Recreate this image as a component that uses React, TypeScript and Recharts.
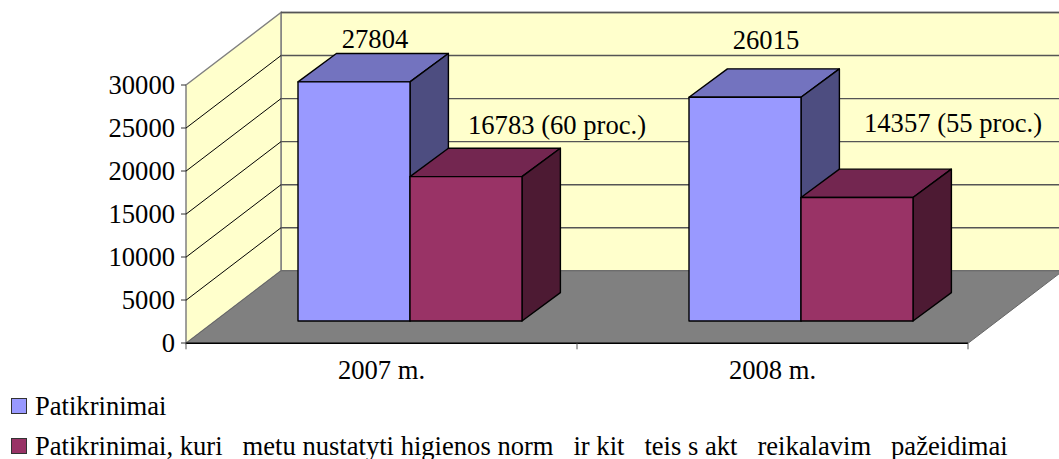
import { BarChart, Bar, XAxis, YAxis, Legend, LabelList } from "recharts";

const categories = ["2007 m.", "2008 m."];
const checks = [27804, 26015];
const violations = [16783, 14357];
const checksLabels = ["27804", "26015"];
const violationLabels = ["16783 (60 proc.)", "14357 (55 proc.)"];
const yTicks = [0, 5000, 10000, 15000, 20000, 25000, 30000];
const seriesNames = [
  "Patikrinimai",
  "Patikrinimai, kuri\u00a0\u00a0 metu nustatyti higienos norm\u00a0\u00a0 ir kit\u00a0\u00a0 teis\u00a0s akt\u00a0\u00a0 reikalavim\u00a0\u00a0 pažeidimai",
];

const chartData = categories.map((name, i) => ({
  name,
  checks: checks[i],
  violations: violations[i],
}));

const FONT = "'Liberation Serif', 'Times New Roman', serif";
const FONT_SIZE = 26.6;

// plot box, front plane of the 3D frame
const LEFT = 186;
const RIGHT = 968;
const TOP = 85;
const BOTTOM = 343.3;
const WALL_DX = 95;
const WALL_DY = 72.5;
// bars sit partway into the depth of the frame
const BAR_SHIFT_X = 28;
const BAR_SHIFT_Y = 22;
const BAR_DX = 38.4;
const BAR_DY = 28.4;

const yOf = (v: number) => BOTTOM - ((BOTTOM - TOP) * v) / 30000;

function Frame() {
  const poly = (pts: number[][]) => pts.map((p) => p.join(",")).join(" ");
  return (
    <g>
      <polygon
        points={poly([
          [LEFT + WALL_DX, TOP - WALL_DY],
          [RIGHT + WALL_DX, TOP - WALL_DY],
          [RIGHT + WALL_DX, BOTTOM - WALL_DY],
          [LEFT + WALL_DX, BOTTOM - WALL_DY],
        ])}
        fill="#ffffcc"
        stroke="#808080"
        strokeWidth={1.5}
      />
      <polygon
        points={poly([
          [LEFT, TOP],
          [LEFT + WALL_DX, TOP - WALL_DY],
          [LEFT + WALL_DX, BOTTOM - WALL_DY],
          [LEFT, BOTTOM],
        ])}
        fill="#ffffcc"
        stroke="#808080"
        strokeWidth={1.5}
      />
      <polygon
        points={poly([
          [LEFT, BOTTOM],
          [RIGHT, BOTTOM],
          [RIGHT + WALL_DX, BOTTOM - WALL_DY],
          [LEFT + WALL_DX, BOTTOM - WALL_DY],
        ])}
        fill="#808080"
        stroke="#666666"
      />
      {yTicks.slice(1).map((t) => (
        <g key={t}>
          {t < 30000 && (
            <line
              x1={LEFT}
              y1={yOf(t)}
              x2={LEFT + WALL_DX}
              y2={yOf(t) - WALL_DY}
              stroke="#000"
              strokeWidth={1}
            />
          )}
          <line
            x1={LEFT + WALL_DX}
            y1={yOf(t) - WALL_DY}
            x2={RIGHT + WALL_DX}
            y2={yOf(t) - WALL_DY}
            stroke="#555"
            strokeWidth={1.4}
          />
        </g>
      ))}
      <line x1={LEFT} y1={BOTTOM} x2={RIGHT} y2={BOTTOM} stroke="#000" strokeWidth={1.5} />
      {[0, 1, 2].map((i) => {
        const x = LEFT + ((RIGHT - LEFT) * i) / 2;
        return <line key={i} x1={x} y1={BOTTOM} x2={x} y2={BOTTOM + 6} stroke="#555" />;
      })}
    </g>
  );
}

function Bar3D(props: any) {
  const { x, y, width, height, fill, topFill, sideFill } = props;
  const l = x + BAR_SHIFT_X;
  const r = l + width;
  const t = y - BAR_SHIFT_Y;
  const b = t + height;
  return (
    <g stroke="#000" strokeWidth={1.4} strokeLinejoin="round">
      <polygon
        points={`${l},${t} ${l + BAR_DX},${t - BAR_DY} ${r + BAR_DX},${t - BAR_DY} ${r},${t}`}
        fill={topFill}
      />
      <polygon
        points={`${r},${t} ${r + BAR_DX},${t - BAR_DY} ${r + BAR_DX},${b - BAR_DY} ${r},${b}`}
        fill={sideFill}
      />
      <rect x={l} y={t} width={width} height={height} fill={fill} />
    </g>
  );
}

const makeLabel =
  (texts: string[], offsets: number[][]) =>
  (props: any) => {
    const { x, y, width, index } = props;
    return (
      <text
        x={x + width / 2 + offsets[index][0]}
        y={y + offsets[index][1]}
        textAnchor="middle"
        fontFamily={FONT}
        fontSize={FONT_SIZE}
        fill="#000"
      >
        {texts[index]}
      </text>
    );
  };

// the data labels were dragged by hand in the original
const checksOffsets = [
  [49, -56],
  [49, -70],
];
const violationOffsets = [
  [119, -65],
  [124, -88],
];

function LegendBox() {
  const colors = ["#9999ff", "#993366"];
  return (
    <div style={{ fontFamily: FONT, fontSize: FONT_SIZE, color: "#000", paddingTop: 5 }}>
      {seriesNames.map((n, i) => (
        <div
          key={n}
          style={{
            display: "flex",
            alignItems: "center",
            height: 40,
            whiteSpace: "pre",
          }}
        >
          <span
            style={{
              display: "inline-block",
              boxSizing: "border-box",
              width: 16,
              height: 16,
              marginLeft: 11,
              marginRight: 8,
              background: colors[i],
              border: "1px solid #333",
            }}
          />
          {n}
        </div>
      ))}
    </div>
  );
}

export default function App() {
  return (
    <div style={{ position: "absolute", left: 0, top: 0, width: 1059, height: 459, overflow: "hidden" }}>
      <BarChart
        width={1059}
        height={459}
        data={chartData}
        barSize={112}
        barGap={0}
        margin={{ top: TOP, right: 1059 - RIGHT, bottom: 12, left: 6 }}
      >
        <Frame />
        <XAxis
          dataKey="name"
          axisLine={false}
          tickLine={false}
          height={26}
          tick={{ fontFamily: FONT, fontSize: FONT_SIZE, fill: "#000" }}
          tickMargin={11}
        />
        <YAxis
          width={180}
          domain={[0, 30000]}
          ticks={yTicks}
          interval={0}
          axisLine={false}
          tickSize={5}
          tickMargin={6}
          tickLine={{ stroke: "#333" }}
          tick={{ fontFamily: FONT, fontSize: FONT_SIZE, fill: "#000" }}
        />
        <Legend
          verticalAlign="bottom"
          height={78}
          content={<LegendBox />}
          wrapperStyle={{ left: 0, top: 381, bottom: "auto", width: 1059 }}
        />
        <Bar
          dataKey="checks"
          name={seriesNames[0]}
          fill="#9999ff"
          isAnimationActive={false}
          shape={<Bar3D topFill="#7373bf" sideFill="#4d4d80" />}
        >
          <LabelList content={makeLabel(checksLabels, checksOffsets)} />
        </Bar>
        <Bar
          dataKey="violations"
          name={seriesNames[1]}
          fill="#993366"
          isAnimationActive={false}
          shape={<Bar3D topFill="#732650" sideFill="#4d1a33" />}
        >
          <LabelList content={makeLabel(violationLabels, violationOffsets)} />
        </Bar>
      </BarChart>
    </div>
  );
}
